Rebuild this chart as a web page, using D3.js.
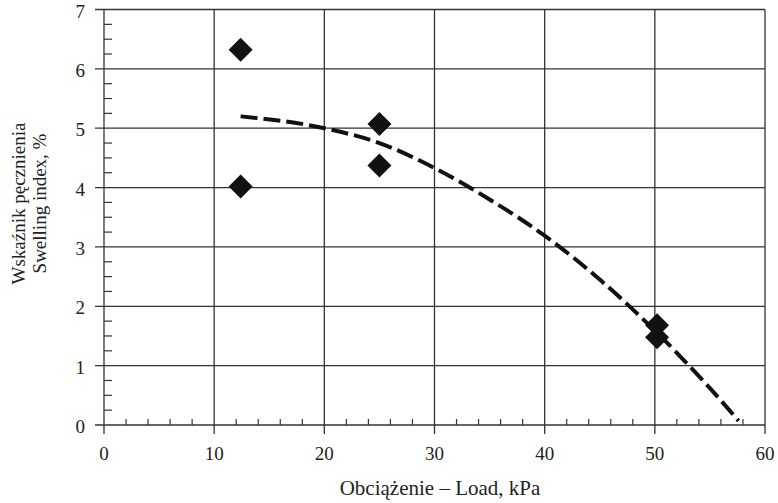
<!DOCTYPE html>
<html>
<head>
<meta charset="utf-8">
<script src="https://cdn.jsdelivr.net/npm/d3@7"></script>
<style>
  body { margin: 0; background: #fff; }
  text { font-family: 'Liberation Serif', 'Times New Roman', serif; fill: #222; }
</style>
</head>
<body>
<div id="graphic"></div>
<script>
// measured points (load kPa, swelling index %)
var loads = [12.4, 12.4, 25, 25, 50.2, 50.2];
var swelling = [6.32, 4.02, 5.07, 4.37, 1.68, 1.48];

// dashed trend line
var trendX = [12.4, 20, 25, 30, 35, 40, 45, 50, 55, 57.6];
var trendY = [5.2, 5.0, 4.75, 4.33, 3.8, 3.19, 2.45, 1.59, 0.62, 0.07];

var xTicks = [0, 10, 20, 30, 40, 50, 60];
var yTicks = [0, 1, 2, 3, 4, 5, 6, 7];

var width = 778, height = 503;
var margin = {left: 104, right: 13, top: 9.5, bottom: 78};

var svg = d3.select('#graphic').append('svg')
  .attr('width', width)
  .attr('height', height);

var x = d3.scaleLinear().domain([0, 60]).range([margin.left, width - margin.right]);
var y = d3.scaleLinear().domain([0, 7]).range([height - margin.bottom, margin.top]);

var lineColour = '#333';

// gridlines
svg.append('g').selectAll('line')
  .data(yTicks)
  .join('line')
  .attr('x1', x(0) - 9)
  .attr('x2', x(60))
  .attr('y1', d => y(d))
  .attr('y2', d => y(d))
  .attr('stroke', lineColour)
  .attr('stroke-width', 1.3);

svg.append('g').selectAll('line')
  .data(xTicks)
  .join('line')
  .attr('x1', d => x(d))
  .attr('x2', d => x(d))
  .attr('y1', y(7))
  .attr('y2', y(0) + 9)
  .attr('stroke', lineColour)
  .attr('stroke-width', 1.3);

// minor ticks
var yMinor = d3.range(0, 7.001, 0.25).filter(d => d % 1 != 0);
svg.append('g').selectAll('line')
  .data(yMinor)
  .join('line')
  .attr('x1', x(0))
  .attr('x2', x(0) + 8)
  .attr('y1', d => y(d))
  .attr('y2', d => y(d))
  .attr('stroke', lineColour)
  .attr('stroke-width', 1.2);

var xMinor = d3.range(0, 60.001, 2).filter(d => d % 10 != 0);
svg.append('g').selectAll('line')
  .data(xMinor)
  .join('line')
  .attr('x1', d => x(d))
  .attr('x2', d => x(d))
  .attr('y1', y(0))
  .attr('y2', y(0) - 6)
  .attr('stroke', lineColour)
  .attr('stroke-width', 1.2);

// tick labels
svg.append('g').selectAll('text')
  .data(yTicks)
  .join('text')
  .attr('x', x(0) - 19)
  .attr('y', d => y(d) + 8)
  .attr('text-anchor', 'end')
  .style('font-size', '19px')
  .text(d => d);

svg.append('g').selectAll('text')
  .data(xTicks)
  .join('text')
  .attr('x', d => x(d))
  .attr('y', 460)
  .attr('text-anchor', 'middle')
  .style('font-size', '19px')
  .text(d => d);

// axis titles
svg.append('text')
  .attr('x', 440)
  .attr('y', 495)
  .attr('text-anchor', 'middle')
  .style('font-size', '21px')
  .text('Obciążenie – Load, kPa');

var yTitle = svg.append('text')
  .attr('transform', 'translate(25,203.5) rotate(-90)')
  .attr('text-anchor', 'middle')
  .style('font-size', '19px');
yTitle.append('tspan').attr('x', 0).attr('y', 0).text('Wskaźnik pęcznienia');
yTitle.append('tspan').attr('x', 0).attr('y', 21).text('Swelling index, %');

// trend line
var line = d3.line()
  .x((d, i) => x(trendX[i]))
  .y(d => y(d))
  .curve(d3.curveMonotoneX);

svg.append('path')
  .attr('d', line(trendY))
  .attr('fill', 'none')
  .attr('stroke', '#111')
  .attr('stroke-width', 4)
  .attr('stroke-dasharray', '17,6');

// diamonds
svg.append('g').selectAll('path')
  .data(loads)
  .join('path')
  .attr('d', d3.symbol().type(d3.symbolSquare).size(288))
  .attr('transform', (d, i) => 'translate(' + x(d) + ',' + y(swelling[i]) + ') rotate(45)')
  .attr('fill', '#111');
</script>
</body>
</html>
